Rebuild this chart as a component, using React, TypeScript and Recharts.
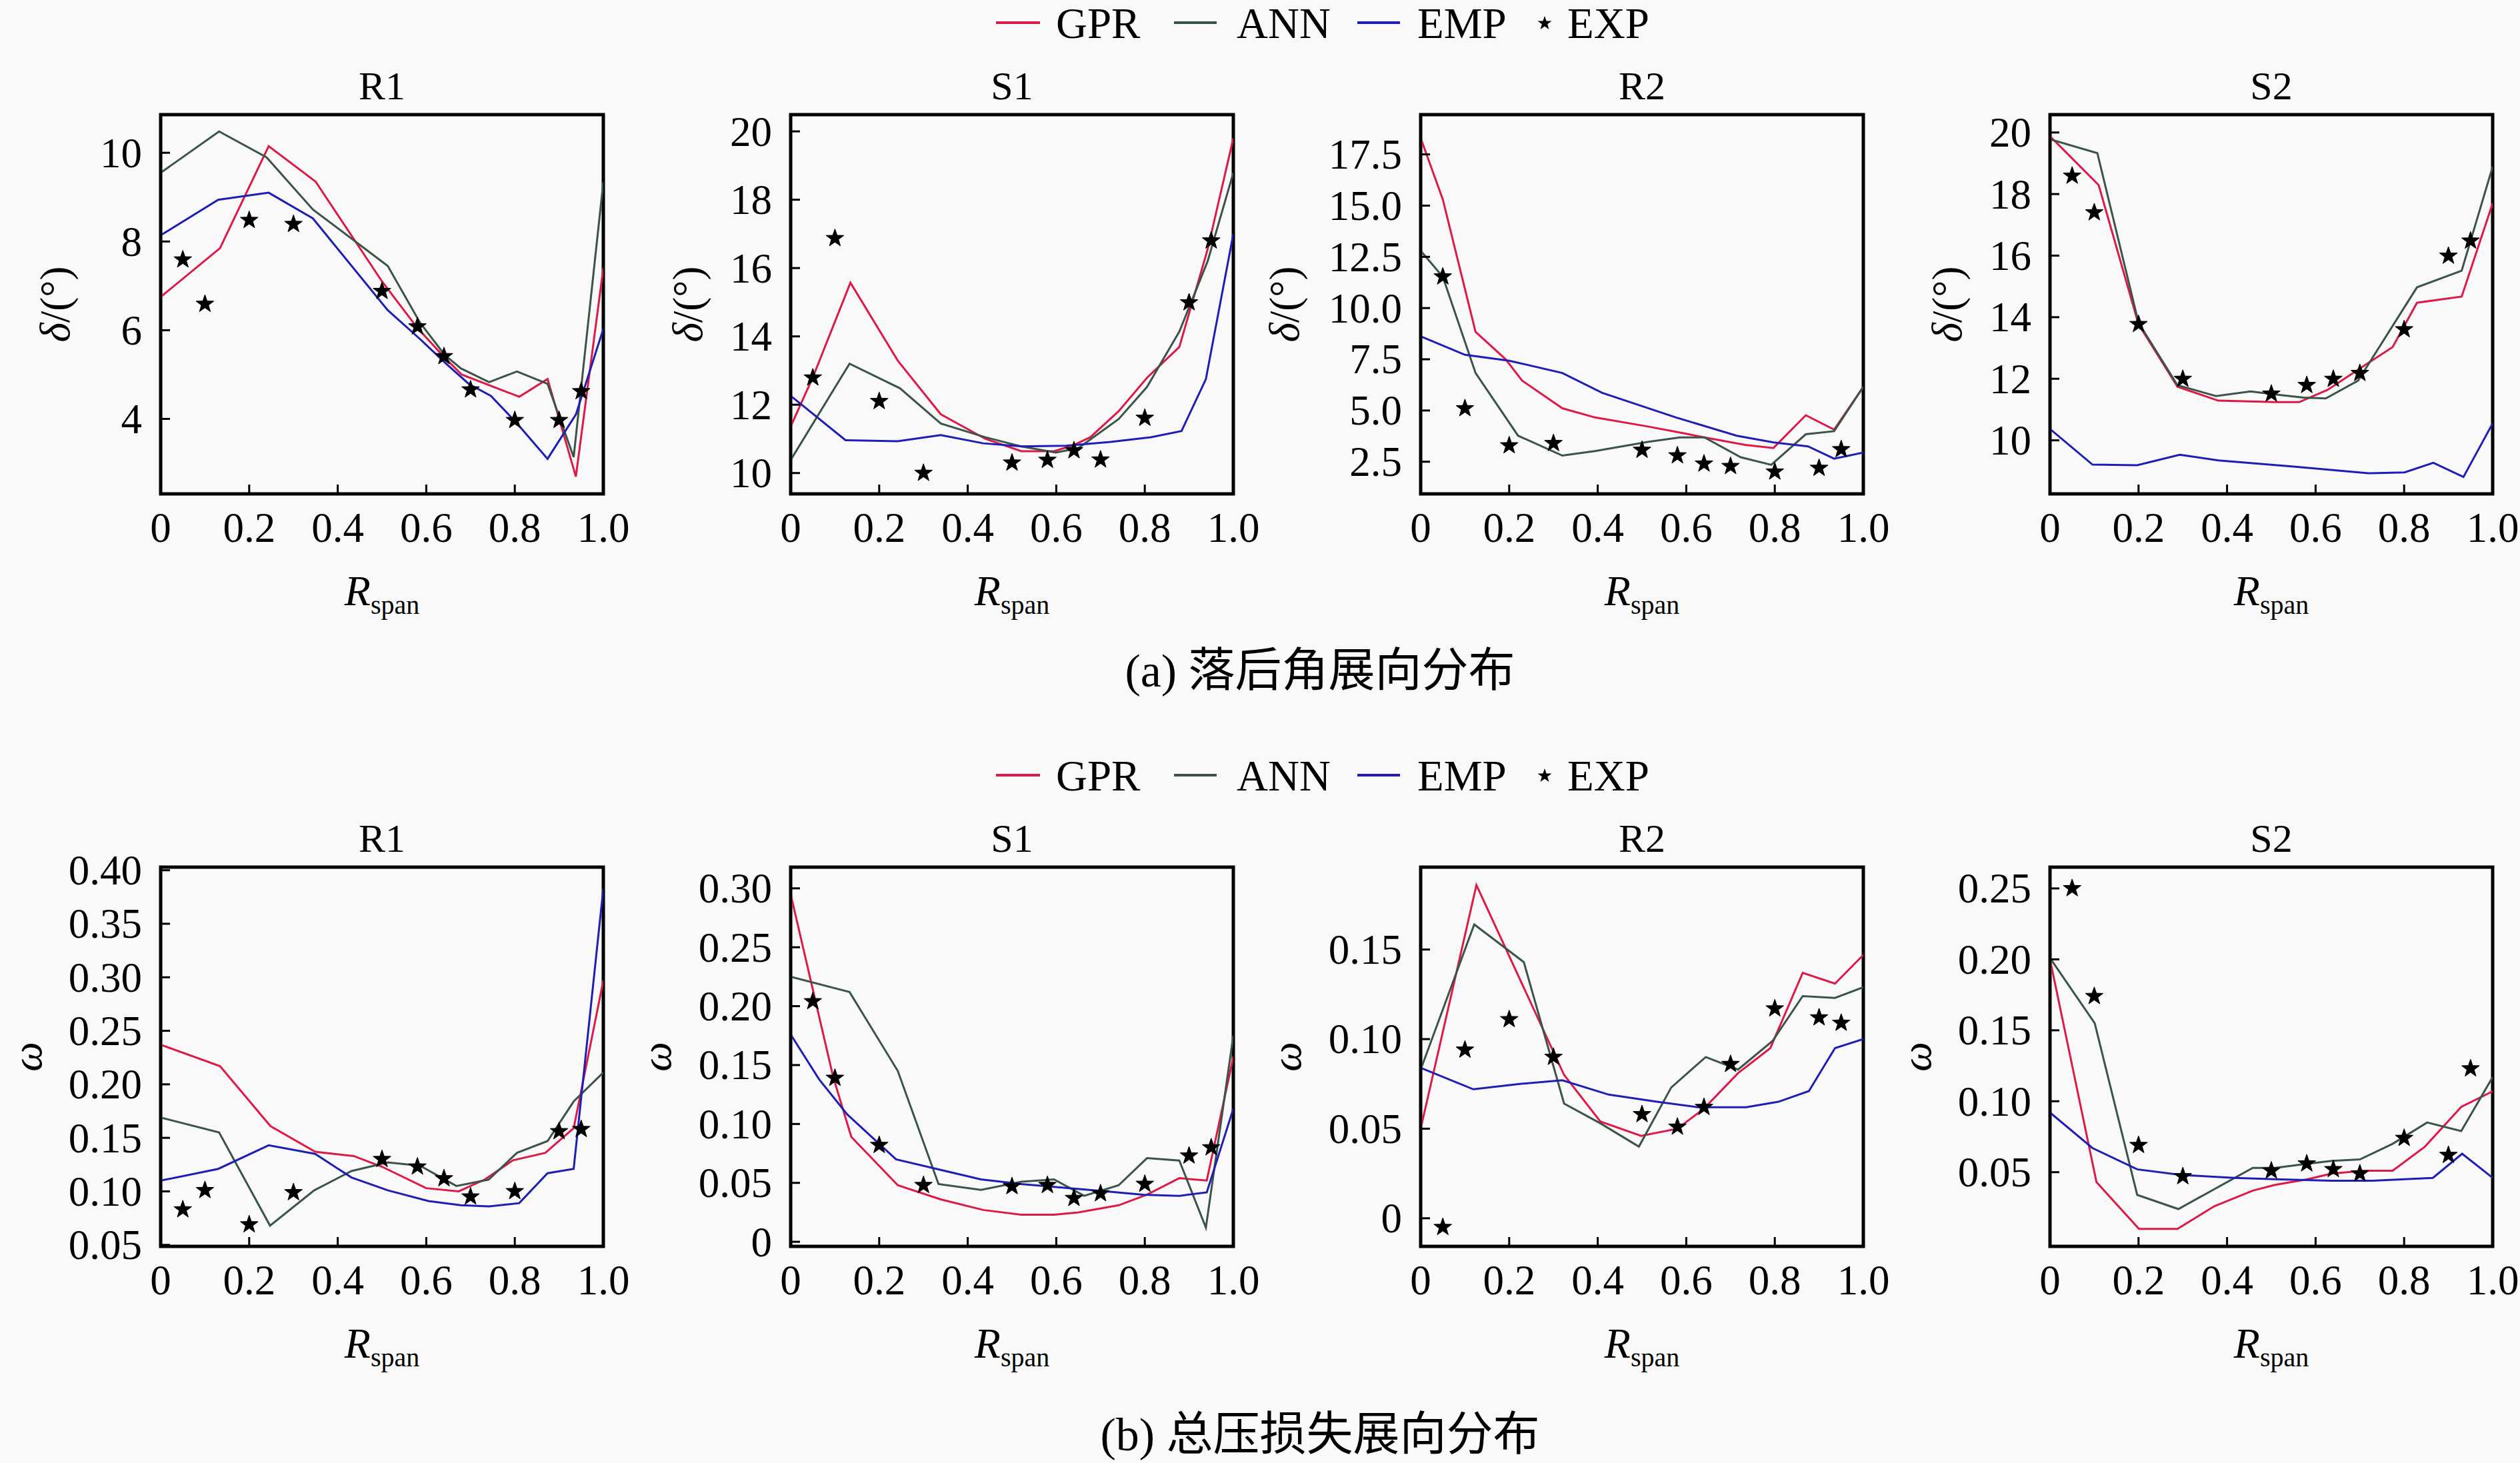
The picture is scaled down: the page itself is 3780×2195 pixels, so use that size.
import React from 'react';
import { ComposedChart, Line, Scatter, XAxis, YAxis, ReferenceArea } from 'recharts';

type Pt = [number, number];

// ---------- shared axis / legend data ----------
const xTicks = [0, 0.2, 0.4, 0.6, 0.8, 1.0];
const legendNames = ['GPR', 'ANN', 'EMP', 'EXP'];
const panelTitles = ['R1', 'S1', 'R2', 'S2'];
const captionA = '(a) 落后角展向分布';
const captionB = '(b) 总压损失展向分布';

// ---------- (a) deviation angle δ ----------
const dR1Gpr: Pt[] = [[0, 6.75], [0.134, 7.85], [0.244, 10.15], [0.35, 9.35], [0.5, 7.1], [0.58, 6.05], [0.64, 5.4], [0.68, 5.0], [0.81, 4.5], [0.874, 4.9], [0.938, 2.7], [1, 7.4]];
const dR1Ann: Pt[] = [[0, 9.55], [0.132, 10.48], [0.239, 9.9], [0.344, 8.72], [0.513, 7.45], [0.586, 6.17], [0.641, 5.45], [0.678, 5.14], [0.742, 4.83], [0.805, 5.07], [0.874, 4.79], [0.933, 3.14], [1, 9.34]];
const dR1Emp: Pt[] = [[0, 8.14], [0.13, 8.94], [0.244, 9.1], [0.344, 8.52], [0.513, 6.45], [0.586, 5.8], [0.641, 5.28], [0.696, 4.79], [0.746, 4.52], [0.805, 3.9], [0.874, 3.1], [0.938, 4.1], [1, 6.03]];
const dR1Exp: Pt[] = [[0.05, 7.59], [0.1, 6.59], [0.2, 8.48], [0.3, 8.39], [0.5, 6.88], [0.58, 6.08], [0.64, 5.41], [0.7, 4.66], [0.8, 3.97], [0.9, 3.97], [0.95, 4.62]];

const dS1Gpr: Pt[] = [[0, 11.36], [0.05, 12.8], [0.135, 15.57], [0.242, 13.29], [0.339, 11.72], [0.44, 11.0], [0.521, 10.64], [0.595, 10.64], [0.64, 10.82], [0.677, 11.05], [0.741, 11.81], [0.805, 12.79], [0.878, 13.69], [0.942, 16.55], [1, 19.8]];
const dS1Ann: Pt[] = [[0, 10.38], [0.133, 13.2], [0.247, 12.48], [0.339, 11.45], [0.439, 11.05], [0.521, 10.78], [0.599, 10.6], [0.65, 10.73], [0.741, 11.58], [0.805, 12.52], [0.878, 14.14], [0.942, 16.2], [1, 18.79]];
const dS1Emp: Pt[] = [[0, 12.26], [0.124, 10.96], [0.242, 10.93], [0.339, 11.11], [0.435, 10.87], [0.521, 10.78], [0.622, 10.8], [0.723, 10.91], [0.814, 11.05], [0.883, 11.23], [0.938, 12.75], [1, 17.0]];
const dS1Exp: Pt[] = [[0.05, 12.79], [0.1, 16.87], [0.2, 12.1], [0.3, 10.0], [0.5, 10.3], [0.58, 10.38], [0.64, 10.66], [0.7, 10.39], [0.8, 11.61], [0.9, 14.99], [0.95, 16.8]];

const dR2Gpr: Pt[] = [[0, 18.3], [0.05, 15.3], [0.124, 8.84], [0.192, 7.5], [0.229, 6.46], [0.32, 5.11], [0.394, 4.66], [0.513, 4.22], [0.586, 3.92], [0.641, 3.69], [0.733, 3.32], [0.797, 3.17], [0.87, 4.77], [0.934, 4.07], [1, 6.16]];
const dR2Ann: Pt[] = [[0, 12.8], [0.05, 11.53], [0.124, 6.83], [0.22, 3.77], [0.32, 2.8], [0.394, 3.02], [0.513, 3.47], [0.586, 3.69], [0.641, 3.69], [0.723, 2.72], [0.792, 2.35], [0.87, 3.84], [0.934, 3.99], [1, 6.16]];
const dR2Emp: Pt[] = [[0, 8.62], [0.1, 7.72], [0.2, 7.43], [0.32, 6.83], [0.41, 5.86], [0.577, 4.66], [0.714, 3.77], [0.797, 3.44], [0.875, 3.25], [0.934, 2.65], [1, 2.95]];
const dR2Exp: Pt[] = [[0.05, 11.53], [0.1, 5.1], [0.2, 3.29], [0.3, 3.4], [0.5, 3.07], [0.58, 2.8], [0.64, 2.4], [0.7, 2.28], [0.8, 2.01], [0.9, 2.19], [0.95, 3.1]];

const dS2Gpr: Pt[] = [[0, 19.88], [0.11, 18.29], [0.2, 13.77], [0.288, 11.74], [0.38, 11.29], [0.508, 11.24], [0.563, 11.24], [0.627, 11.64], [0.71, 12.43], [0.774, 13.03], [0.829, 14.47], [0.93, 14.67], [1, 17.7]];
const dS2Ann: Pt[] = [[0, 19.78], [0.107, 19.33], [0.2, 13.82], [0.288, 11.79], [0.375, 11.44], [0.453, 11.59], [0.508, 11.49], [0.572, 11.39], [0.623, 11.36], [0.696, 11.94], [0.829, 14.97], [0.93, 15.51], [1, 18.89]];
const dS2Emp: Pt[] = [[0, 10.37], [0.096, 9.21], [0.197, 9.19], [0.293, 9.53], [0.38, 9.35], [0.55, 9.15], [0.719, 8.93], [0.801, 8.96], [0.866, 9.27], [0.934, 8.81], [1, 10.55]];
const dS2Exp: Pt[] = [[0.05, 18.59], [0.1, 17.4], [0.2, 13.77], [0.3, 11.99], [0.5, 11.51], [0.58, 11.79], [0.64, 11.99], [0.7, 12.18], [0.8, 13.6], [0.9, 15.99], [0.95, 16.48]];

// ---------- (b) total pressure loss ω ----------
const wR1Gpr: Pt[] = [[0, 0.237], [0.134, 0.217], [0.248, 0.161], [0.349, 0.137], [0.436, 0.133], [0.5, 0.123], [0.6, 0.103], [0.673, 0.1], [0.732, 0.111], [0.796, 0.129], [0.869, 0.136], [0.933, 0.159], [1, 0.297]];
const wR1Ann: Pt[] = [[0, 0.169], [0.132, 0.155], [0.247, 0.068], [0.347, 0.101], [0.431, 0.119], [0.513, 0.127], [0.586, 0.124], [0.668, 0.105], [0.741, 0.111], [0.805, 0.136], [0.874, 0.147], [0.933, 0.184], [1, 0.211]];
const wR1Emp: Pt[] = [[0, 0.11], [0.13, 0.121], [0.244, 0.143], [0.349, 0.135], [0.431, 0.113], [0.513, 0.101], [0.605, 0.091], [0.678, 0.087], [0.742, 0.086], [0.81, 0.089], [0.874, 0.117], [0.933, 0.121], [1, 0.383]];
const wR1Exp: Pt[] = [[0.05, 0.083], [0.1, 0.101], [0.2, 0.069], [0.3, 0.099], [0.5, 0.13], [0.58, 0.123], [0.64, 0.112], [0.7, 0.095], [0.8, 0.1], [0.9, 0.156], [0.95, 0.158]];

const wS1Gpr: Pt[] = [[0, 0.295], [0.096, 0.14], [0.137, 0.089], [0.242, 0.048], [0.339, 0.036], [0.435, 0.027], [0.521, 0.023], [0.595, 0.023], [0.65, 0.025], [0.741, 0.031], [0.805, 0.04], [0.878, 0.054], [0.94, 0.052], [1, 0.157]];
const wS1Ann: Pt[] = [[0, 0.225], [0.133, 0.212], [0.242, 0.145], [0.334, 0.049], [0.43, 0.044], [0.521, 0.051], [0.595, 0.053], [0.663, 0.039], [0.741, 0.048], [0.805, 0.071], [0.878, 0.069], [0.938, 0.012], [1, 0.175]];
const wS1Emp: Pt[] = [[0, 0.176], [0.064, 0.138], [0.128, 0.108], [0.238, 0.07], [0.339, 0.061], [0.43, 0.053], [0.521, 0.049], [0.613, 0.046], [0.705, 0.043], [0.796, 0.04], [0.878, 0.039], [0.94, 0.042], [1, 0.113]];
const wS1Exp: Pt[] = [[0.05, 0.204], [0.1, 0.139], [0.2, 0.082], [0.3, 0.048], [0.5, 0.047], [0.58, 0.048], [0.64, 0.037], [0.7, 0.041], [0.8, 0.049], [0.9, 0.073], [0.95, 0.08]];

const wR2Gpr: Pt[] = [[0, 0.05], [0.126, 0.186], [0.324, 0.08], [0.406, 0.054], [0.498, 0.046], [0.58, 0.05], [0.639, 0.061], [0.717, 0.081], [0.79, 0.095], [0.863, 0.137], [0.936, 0.131], [1, 0.147]];
const wR2Ann: Pt[] = [[0, 0.083], [0.121, 0.164], [0.233, 0.143], [0.324, 0.064], [0.406, 0.053], [0.493, 0.04], [0.566, 0.073], [0.644, 0.09], [0.717, 0.083], [0.795, 0.099], [0.863, 0.124], [0.936, 0.123], [1, 0.129]];
const wR2Emp: Pt[] = [[0, 0.084], [0.119, 0.072], [0.224, 0.075], [0.32, 0.077], [0.425, 0.069], [0.534, 0.065], [0.626, 0.062], [0.735, 0.062], [0.808, 0.065], [0.877, 0.071], [0.936, 0.095], [1, 0.1]];
const wR2Exp: Pt[] = [[0.05, -0.005], [0.1, 0.094], [0.2, 0.111], [0.3, 0.09], [0.5, 0.058], [0.58, 0.051], [0.64, 0.062], [0.7, 0.086], [0.8, 0.117], [0.9, 0.112], [0.95, 0.109]];

const wS2Gpr: Pt[] = [[0, 0.2], [0.105, 0.043], [0.201, 0.01], [0.288, 0.01], [0.371, 0.026], [0.458, 0.037], [0.508, 0.041], [0.582, 0.045], [0.636, 0.049], [0.71, 0.051], [0.774, 0.051], [0.847, 0.068], [0.929, 0.096], [1, 0.107]];
const wS2Ann: Pt[] = [[0, 0.201], [0.101, 0.155], [0.197, 0.034], [0.29, 0.024], [0.371, 0.038], [0.458, 0.053], [0.508, 0.053], [0.582, 0.056], [0.636, 0.058], [0.7, 0.059], [0.774, 0.07], [0.852, 0.085], [0.929, 0.079], [1, 0.117]];
const wS2Emp: Pt[] = [[0, 0.092], [0.096, 0.067], [0.197, 0.052], [0.298, 0.048], [0.417, 0.046], [0.508, 0.045], [0.636, 0.044], [0.728, 0.044], [0.801, 0.045], [0.865, 0.046], [0.931, 0.063], [1, 0.046]];
const wS2Exp: Pt[] = [[0.05, 0.25], [0.1, 0.174], [0.2, 0.069], [0.3, 0.047], [0.5, 0.051], [0.58, 0.056], [0.64, 0.052], [0.7, 0.049], [0.8, 0.074], [0.9, 0.062], [0.95, 0.123]];

// ---------- y axis domains and ticks ----------
const dR1Ticks = [4, 6, 8, 10];
const dS1Ticks = [10, 12, 14, 16, 18, 20];
const dR2Ticks = [2.5, 5, 7.5, 10, 12.5, 15, 17.5];
const dS2Ticks = [10, 12, 14, 16, 18, 20];
const wR1Ticks = [0.05, 0.1, 0.15, 0.2, 0.25, 0.3, 0.35, 0.4];
const wS1Ticks = [0, 0.05, 0.1, 0.15, 0.2, 0.25, 0.3];
const wR2Ticks = [0, 0.05, 0.1, 0.15];
const wS2Ticks = [0.05, 0.1, 0.15, 0.2, 0.25];

const dR1Domain: Pt = [2.31, 10.86];
const dS1Domain: Pt = [9.39, 20.49];
const dR2Domain: Pt = [0.93, 19.44];
const dS2Domain: Pt = [8.26, 20.58];
const wR1Domain: Pt = [0.0486, 0.4029];
const wS1Domain: Pt = [-0.0039, 0.318];
const wR2Domain: Pt = [-0.0157, 0.196];
const wS2Domain: Pt = [-0.0023, 0.265];

// ---------- styling / layout ----------
const FONT = "'Liberation Serif', 'Times New Roman', 'Noto Sans CJK SC', serif";
const COLORS = { GPR: '#dc1a48', ANN: '#3a5447', EMP: '#1e1eb4', EXP: '#000000' };
const BG = '#f9f9f9';
const PAGE_W = 3780;
const PAGE_H = 2195;
const PW = 664;
const PH = 569;
const COL_LEFT = [241, 1186, 2131, 3075];
const ROW_TOP = [172, 1301];
const ROW_SHIFT = 1129;
const ML = 260, MR = 70, MT = 60, MB = 210;
const TICK_FS = 63;
const FRAME = { stroke: '#000', strokeWidth: 4, strokeLinecap: 'square' as const };

const toObjs = (a: Pt[]) => a.map(([x, y]) => ({ x, y }));

const starPoints = (cx: number, cy: number, R: number) => {
  const r = R * 0.4;
  const pts: string[] = [];
  for (let i = 0; i < 10; i++) {
    const ang = -Math.PI / 2 + (i * Math.PI) / 5;
    const rad = i % 2 === 0 ? R : r;
    pts.push(`${(cx + rad * Math.cos(ang)).toFixed(2)},${(cy + rad * Math.sin(ang)).toFixed(2)}`);
  }
  return pts.join(' ');
};

const StarShape = (props: any) => {
  const { cx, cy } = props;
  if (cx == null || cy == null) return <g />;
  return <polygon points={starPoints(cx, cy, 14)} fill="#000" stroke="#000" strokeWidth={1} />;
};

const fmtX = (v: number) => (v === 0 ? '0' : v.toFixed(1));
const fmtInt = (v: number) => String(v);
const fmtOne = (v: number) => v.toFixed(1);
const fmtTwo = (v: number) => (v === 0 ? '0' : v.toFixed(2));

const XTick = (p: any) => (
  <g>
    <line x1={p.x} x2={p.x} y1={p.y} y2={p.y - 14} stroke="#000" strokeWidth={3} />
    <text x={p.x} y={p.y + 72} textAnchor="middle" fontSize={TICK_FS} fontFamily={FONT} fill="#000">
      {fmtX(p.payload.value)}
    </text>
  </g>
);

const makeYTick = (fmt: (v: number) => string) => (p: any) => (
  <g>
    <line x1={p.x} x2={p.x + 14} y1={p.y} y2={p.y} stroke="#000" strokeWidth={3} />
    <text x={p.x - 28} y={p.y} dy="0.34em" textAnchor="end" fontSize={TICK_FS} fontFamily={FONT} fill="#000">
      {fmt(p.payload.value)}
    </text>
  </g>
);

type PanelSpec = {
  col: number;
  row: number;
  domain: Pt;
  ticks: number[];
  fmt: (v: number) => string;
  gpr: Pt[];
  ann: Pt[];
  emp: Pt[];
  exp: Pt[];
  labelOffset: number;
};

const panels: PanelSpec[] = [
  { col: 0, row: 0, domain: dR1Domain, ticks: dR1Ticks, fmt: fmtInt, gpr: dR1Gpr, ann: dR1Ann, emp: dR1Emp, exp: dR1Exp, labelOffset: 158 },
  { col: 1, row: 0, domain: dS1Domain, ticks: dS1Ticks, fmt: fmtInt, gpr: dS1Gpr, ann: dS1Ann, emp: dS1Emp, exp: dS1Exp, labelOffset: 154 },
  { col: 2, row: 0, domain: dR2Domain, ticks: dR2Ticks, fmt: fmtOne, gpr: dR2Gpr, ann: dR2Ann, emp: dR2Emp, exp: dR2Exp, labelOffset: 204 },
  { col: 3, row: 0, domain: dS2Domain, ticks: dS2Ticks, fmt: fmtInt, gpr: dS2Gpr, ann: dS2Ann, emp: dS2Emp, exp: dS2Exp, labelOffset: 154 },
  { col: 0, row: 1, domain: wR1Domain, ticks: wR1Ticks, fmt: fmtTwo, gpr: wR1Gpr, ann: wR1Ann, emp: wR1Emp, exp: wR1Exp, labelOffset: 200 },
  { col: 1, row: 1, domain: wS1Domain, ticks: wS1Ticks, fmt: fmtTwo, gpr: wS1Gpr, ann: wS1Ann, emp: wS1Emp, exp: wS1Exp, labelOffset: 201 },
  { col: 2, row: 1, domain: wR2Domain, ticks: wR2Ticks, fmt: fmtTwo, gpr: wR2Gpr, ann: wR2Ann, emp: wR2Emp, exp: wR2Exp, labelOffset: 201 },
  { col: 3, row: 1, domain: wS2Domain, ticks: wS2Ticks, fmt: fmtTwo, gpr: wS2Gpr, ann: wS2Ann, emp: wS2Emp, exp: wS2Exp, labelOffset: 200 },
];

function Panel({ spec }: { spec: PanelSpec }) {
  const left = COL_LEFT[spec.col];
  const top = ROW_TOP[spec.row];
  const W = PW + ML + MR;
  const H = PH + MT + MB;
  const YTick = makeYTick(spec.fmt);
  return (
    <div style={{ position: 'absolute', left: left - ML, top: top - MT, width: W, height: H }}>
      <ComposedChart width={W} height={H} margin={{ top: MT, right: MR, bottom: 0, left: 0 }}>
        <XAxis
          type="number"
          dataKey="x"
          domain={[0, 1]}
          ticks={xTicks}
          interval={0}
          allowDataOverflow
          height={MB}
          axisLine={FRAME}
          tickLine={false}
          tickSize={0}
          tickMargin={0}
          tick={XTick}
        />
        <YAxis
          type="number"
          dataKey="y"
          domain={spec.domain}
          ticks={spec.ticks}
          interval={0}
          allowDataOverflow
          width={ML}
          axisLine={FRAME}
          tickLine={false}
          tickSize={0}
          tickMargin={0}
          tick={YTick}
        />
        <ReferenceArea
          x1={0}
          x2={1}
          y1={spec.domain[0]}
          y2={spec.domain[1]}
          fill="none"
          fillOpacity={0}
          stroke="#000"
          strokeWidth={5}
          ifOverflow="visible"
        />
        <Line data={toObjs(spec.gpr)} dataKey="y" name="GPR" type="linear" stroke={COLORS.GPR} strokeWidth={3} dot={false} activeDot={false} isAnimationActive={false} />
        <Line data={toObjs(spec.ann)} dataKey="y" name="ANN" type="linear" stroke={COLORS.ANN} strokeWidth={3} dot={false} activeDot={false} isAnimationActive={false} />
        <Line data={toObjs(spec.emp)} dataKey="y" name="EMP" type="linear" stroke={COLORS.EMP} strokeWidth={3} dot={false} activeDot={false} isAnimationActive={false} />
        <Scatter data={toObjs(spec.exp)} name="EXP" fill="#000" shape={StarShape} isAnimationActive={false} />
      </ComposedChart>
    </div>
  );
}

const legendItems = [
  { name: legendNames[0], color: COLORS.GPR, x1: 1494, x2: 1560, tx: 1584 },
  { name: legendNames[1], color: COLORS.ANN, x1: 1761, x2: 1825, tx: 1855 },
  { name: legendNames[2], color: COLORS.EMP, x1: 2036, x2: 2100, tx: 2126 },
];

function Legend({ dy }: { dy: number }) {
  return (
    <g>
      {legendItems.map((it) => (
        <g key={it.name}>
          <line x1={it.x1} x2={it.x2} y1={34 + dy} y2={34 + dy} stroke={it.color} strokeWidth={4} />
          <text x={it.tx} y={57 + dy} fontSize={65} fontFamily={FONT} fill="#000">{it.name}</text>
        </g>
      ))}
      <polygon points={starPoints(2317, 35 + dy, 11)} fill="#000" />
      <text x={2351} y={57 + dy} fontSize={65} fontFamily={FONT} fill="#000">{legendNames[3]}</text>
    </g>
  );
}

function Overlay() {
  return (
    <svg width={PAGE_W} height={PAGE_H} style={{ position: 'absolute', left: 0, top: 0, pointerEvents: 'none' }}>
      <Legend dy={0} />
      <Legend dy={ROW_SHIFT} />
      {panels.map((p, i) => {
        const cx = COL_LEFT[p.col] + PW / 2;
        const top = ROW_TOP[p.row];
        const lx = COL_LEFT[p.col] - p.labelOffset;
        const ly = top + PH / 2;
        return (
          <g key={i}>
            <text x={cx} y={top - 23} textAnchor="middle" fontSize={60} fontFamily={FONT} fill="#000">
              {panelTitles[p.col]}
            </text>
            <text
              transform={`translate(${lx},${ly}) rotate(-90)`}
              textAnchor="middle"
              dy="0.34em"
              fontSize={63}
              fontFamily={FONT}
              fill="#000"
            >
              {p.row === 0 ? (
                <>
                  <tspan fontStyle="italic">δ</tspan>
                  <tspan>/(°)</tspan>
                </>
              ) : (
                <tspan fontStyle="italic">ω</tspan>
              )}
            </text>
            <text x={cx} y={top + PH + 167} textAnchor="middle" fontSize={64} fontFamily={FONT} fill="#000">
              <tspan fontStyle="italic">R</tspan>
              <tspan fontSize={40} dy={13}>span</tspan>
            </text>
          </g>
        );
      })}
      <text x={1980} y={1030} textAnchor="middle" fontSize={70} fontFamily={FONT} fill="#000">{captionA}</text>
      <text x={1980} y={2176} textAnchor="middle" fontSize={70} fontFamily={FONT} fill="#000">{captionB}</text>
    </svg>
  );
}

export default function App() {
  return (
    <div
      style={{
        position: 'absolute',
        left: 0,
        top: 0,
        width: PAGE_W,
        height: PAGE_H,
        background: BG,
        overflow: 'hidden',
        fontFamily: FONT,
      }}
    >
      {panels.map((p, i) => (
        <Panel key={i} spec={p} />
      ))}
      <Overlay />
    </div>
  );
}
